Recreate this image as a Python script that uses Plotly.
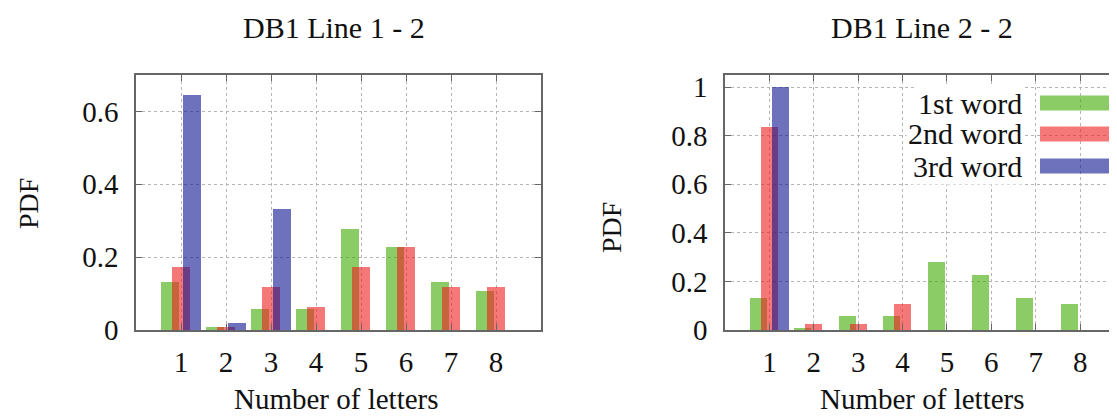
import plotly.graph_objects as go

# ---- data ----
letters = [1, 2, 3, 4, 5, 6, 7, 8]
series_names = ["1st word", "2nd word", "3rd word"]

left_title = "DB1 Line 1 - 2"
left_first = [0.131, 0.009, 0.057, 0.057, 0.277, 0.228, 0.131, 0.107]
left_second = [0.174, 0.009, 0.119, 0.062, 0.174, 0.228, 0.119, 0.119]
left_third = [0.646, 0.020, 0.332, None, None, None, None, None]

right_title = "DB1 Line 2 - 2"
right_first = [0.130, 0.007, 0.059, 0.059, 0.278, 0.226, 0.130, 0.107]
right_second = [0.837, 0.025, 0.025, 0.107, None, None, None, None]
right_third = [1.0, None, None, None, None, None, None, None]

left_yticks = [0, 0.2, 0.4, 0.6]
left_yticktext = ["0", "0.2", "0.4", "0.6"]
right_yticks = [0, 0.2, 0.4, 0.6, 0.8, 1.0]
right_yticktext = ["0", "0.2", "0.4", "0.6", "0.8", "1"]

# ---- style ----
colors = ["rgba(63,170,0,0.6)", "rgba(237,30,30,0.6)", "rgba(13,20,143,0.6)"]
offsets = [-0.245, 0.0, 0.245]
bar_width = 0.38
FONT = "Liberation Serif, Times New Roman, serif"
TXT = "#111"
# page body has an 8px margin; compensate so screen coords match
OFF = 8
W, H = 1117 - OFF, 420 - OFF


def px_x(p):
    return (p - OFF) / W


def px_y(p):
    return 1 - (p - OFF) / H


fig = go.Figure()

for xa, ya, vals in [("x", "y", [left_first, left_second, left_third]),
                     ("x2", "y2", [right_first, right_second, right_third])]:
    for i, v in enumerate(vals):
        fig.add_trace(go.Bar(
            x=[c + offsets[i] for c in letters], y=v, width=bar_width,
            marker=dict(color=colors[i], line=dict(width=0)),
            name=series_names[i], showlegend=False, xaxis=xa, yaxis=ya,
        ))

axis_common = dict(
    showline=True, linecolor="#666", linewidth=1.5,
    ticks="inside", ticklen=6, tickcolor="#666", tickwidth=1,
    showgrid=True, gridcolor="#b5b5b5", griddash="dot", gridwidth=1,
    zeroline=False, automargin=False,
    tickfont=dict(family=FONT, size=29, color=TXT),
)

ydom = [px_y(330), px_y(75)]

fig.update_layout(
    width=W, height=H,
    margin=dict(l=0, r=0, t=0, b=0),
    paper_bgcolor="white", plot_bgcolor="white",
    barmode="overlay", bargap=0,
    showlegend=False,
    xaxis=dict(axis_common, domain=[px_x(136), px_x(541)], range=[0, 9],
               tickvals=letters, mirror="allticks", anchor="y",
               ticklabelstandoff=5),
    yaxis=dict(axis_common, domain=ydom, range=[0, 0.7],
               tickvals=left_yticks, ticktext=left_yticktext,
               mirror="allticks", anchor="x", ticklabelstandoff=10),
    xaxis2=dict(axis_common, domain=[px_x(725), 1.0], range=[0, 8.83],
                tickvals=letters, mirror="allticks", anchor="y2",
                ticklabelstandoff=5),
    yaxis2=dict(axis_common, domain=ydom, range=[0, 1.05],
                tickvals=right_yticks, ticktext=right_yticktext,
                mirror=False, anchor="x2", ticklabelstandoff=10),
)

ann = []
# titles
ann.append(dict(text=left_title, x=px_x(334), y=px_y(28), size=30))
ann.append(dict(text=right_title, x=px_x(922), y=px_y(28), size=30))
# x axis titles
ann.append(dict(text="Number of letters", x=px_x(336), y=px_y(399), size=29))
ann.append(dict(text="Number of letters", x=px_x(922), y=px_y(399), size=29))
# y axis titles
ann.append(dict(text="PDF", x=px_x(28), y=px_y(204), textangle=-90, size=28))
ann.append(dict(text="PDF", x=px_x(611), y=px_y(228), textangle=-90, size=28))

annotations = []
for a in ann:
    size = a.pop("size")
    d = dict(xref="paper", yref="paper", showarrow=False,
             xanchor="center", yanchor="middle",
             font=dict(family=FONT, size=size, color=TXT))
    d.update(a)
    annotations.append(d)

# legend (drawn manually: right-aligned text, swatch on the right)
legend_rows = [103, 134, 166]
shapes = []
for i, name in enumerate(series_names):
    yc = legend_rows[i]
    annotations.append(dict(
        xref="paper", yref="paper", showarrow=False,
        x=px_x(1024), y=px_y(yc), xanchor="right", yanchor="middle",
        text=name, font=dict(family=FONT, size=30, color=TXT),
        bgcolor="white",
    ))
    shapes.append(dict(
        type="rect", xref="paper", yref="paper",
        x0=px_x(1040), x1=px_x(1110), y0=px_y(yc + 7.5), y1=px_y(yc - 7.5),
        fillcolor=colors[i], line=dict(width=0),
    ))

fig.update_layout(annotations=annotations, shapes=shapes)

fig.write_html("out.html")
